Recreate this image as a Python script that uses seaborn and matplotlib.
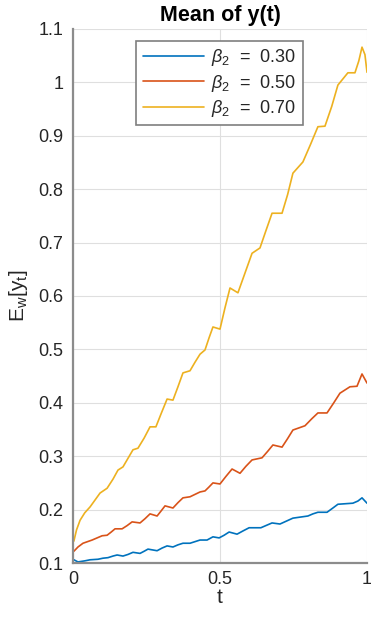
import numpy as np
import pandas as pd
import matplotlib
matplotlib.use("Agg")
import matplotlib.pyplot as plt
import seaborn as sns

# -----------------------------
# Data
# -----------------------------
t_b30 = [0.003, 0.017, 0.040, 0.058, 0.085, 0.102, 0.119, 0.136, 0.150, 0.170, 0.187,
         0.204, 0.228, 0.242, 0.255, 0.286, 0.303, 0.320, 0.340, 0.357, 0.374, 0.398,
         0.415, 0.432, 0.456, 0.476, 0.497, 0.514, 0.531, 0.558, 0.578, 0.599, 0.639,
         0.660, 0.677, 0.704, 0.728, 0.748, 0.799, 0.816, 0.833, 0.864, 0.884, 0.901,
         0.952, 0.969, 0.983, 1.000]
y_b30 = [0.106, 0.102, 0.104, 0.106, 0.107, 0.109, 0.110, 0.113, 0.115, 0.113, 0.116,
         0.120, 0.118, 0.122, 0.126, 0.123, 0.128, 0.132, 0.130, 0.134, 0.137, 0.137,
         0.140, 0.143, 0.143, 0.149, 0.147, 0.152, 0.158, 0.154, 0.160, 0.166, 0.166,
         0.171, 0.175, 0.173, 0.179, 0.184, 0.188, 0.192, 0.195, 0.195, 0.203, 0.210,
         0.212, 0.216, 0.222, 0.212]

t_b50 = [0.003, 0.017, 0.034, 0.065, 0.082, 0.099, 0.116, 0.130, 0.143, 0.167, 0.184,
         0.201, 0.228, 0.245, 0.262, 0.286, 0.299, 0.313, 0.340, 0.357, 0.374, 0.398,
         0.432, 0.449, 0.462, 0.476, 0.500, 0.520, 0.541, 0.568, 0.588, 0.609, 0.643,
         0.662, 0.680, 0.711, 0.730, 0.748, 0.789, 0.812, 0.833, 0.864, 0.887, 0.908,
         0.942, 0.966, 0.983, 1.000]
y_b50 = [0.122, 0.130, 0.137, 0.143, 0.147, 0.151, 0.152, 0.158, 0.164, 0.164, 0.170,
         0.177, 0.175, 0.183, 0.192, 0.188, 0.197, 0.207, 0.203, 0.213, 0.222, 0.224,
         0.233, 0.235, 0.242, 0.250, 0.248, 0.262, 0.276, 0.268, 0.281, 0.293, 0.297,
         0.309, 0.321, 0.317, 0.333, 0.349, 0.357, 0.370, 0.381, 0.381, 0.400, 0.418,
         0.430, 0.431, 0.454, 0.437]

t_b70 = [0.003, 0.012, 0.024, 0.040, 0.058, 0.075, 0.092, 0.116, 0.136, 0.153, 0.170,
         0.187, 0.204, 0.221, 0.242, 0.262, 0.282, 0.300, 0.320, 0.340, 0.357, 0.374,
         0.398, 0.415, 0.432, 0.449, 0.463, 0.476, 0.500, 0.517, 0.534, 0.561, 0.585,
         0.609, 0.636, 0.656, 0.677, 0.711, 0.730, 0.748, 0.782, 0.808, 0.833, 0.857,
         0.880, 0.901, 0.935, 0.959, 0.972, 0.983, 0.993, 1.000]
y_b70 = [0.141, 0.162, 0.180, 0.194, 0.205, 0.218, 0.231, 0.240, 0.257, 0.274, 0.280,
         0.296, 0.312, 0.315, 0.334, 0.355, 0.355, 0.380, 0.407, 0.405, 0.430, 0.456,
         0.460, 0.476, 0.491, 0.499, 0.522, 0.542, 0.538, 0.578, 0.615, 0.606, 0.643,
         0.680, 0.690, 0.722, 0.755, 0.755, 0.790, 0.830, 0.851, 0.884, 0.917, 0.918,
         0.955, 0.995, 1.018, 1.018, 1.040, 1.066, 1.052, 1.019]

labels = [r"$\beta_2$  =  0.30", r"$\beta_2$  =  0.50", r"$\beta_2$  =  0.70"]
colors = ["#0072BD", "#D95319", "#EDB120"]

x_ticks = [0, 0.5, 1]
x_tick_labels = ["0", "0.5", "1"]
y_ticks = [0.1, 0.2, 0.3, 0.4, 0.5, 0.6, 0.7, 0.8, 0.9, 1.0, 1.1]
y_tick_labels = ["0.1", "0.2", "0.3", "0.4", "0.5", "0.6", "0.7", "0.8", "0.9", "1", "1.1"]

df = pd.concat([
    pd.DataFrame({"t": t_b30, "y": y_b30, "series": labels[0]}),
    pd.DataFrame({"t": t_b50, "y": y_b50, "series": labels[1]}),
    pd.DataFrame({"t": t_b70, "y": y_b70, "series": labels[2]}),
])

# -----------------------------
# Plot
# -----------------------------
sns.set_theme(style="whitegrid")
plt.rcParams["font.family"] = ["Liberation Sans", "DejaVu Sans"]
plt.rcParams["mathtext.fontset"] = "custom"
plt.rcParams["mathtext.rm"] = "Liberation Sans"
plt.rcParams["mathtext.it"] = "Liberation Sans:italic"

fig = plt.figure(figsize=(3.71, 6.18), dpi=100)
ax = fig.add_axes([73 / 371, 55 / 618, 294 / 371, 534 / 618])

sns.lineplot(data=df, x="t", y="y", hue="series", palette=colors,
             linewidth=1.2, ax=ax, sort=False, estimator=None)
for ln in ax.get_lines():
    ln.set_solid_joinstyle("round")

ax.set_xlim(0, 1)
ax.set_ylim(0.1, 1.1)
ax.set_xticks(x_ticks)
ax.set_xticklabels(x_tick_labels)
ax.set_yticks(y_ticks)
ax.set_yticklabels(y_tick_labels)
ax.tick_params(axis="both", labelsize=13, colors="#262626", direction="in",
               length=4, width=0.8)
ax.tick_params(axis="y", pad=7)
ax.tick_params(axis="x", pad=6)
ax.grid(True, color="#dfdfdf", linewidth=0.8)
ax.set_facecolor("white")

for side in ["top", "right"]:
    ax.spines[side].set_visible(False)
for side in ["left", "bottom"]:
    ax.spines[side].set_color("#8c8c8c")
    ax.spines[side].set_linewidth(1.6)

ax.set_xlabel("t", fontsize=15, color="#262626", labelpad=0)
ax.set_ylabel(r"E$_\mathrm{w}$[y$_\mathrm{t}$]", fontsize=15, color="#262626", labelpad=6)
ax.set_title("Mean of y(t)", fontsize=15.5, fontweight="bold", color="#000000", pad=6)

leg = ax.legend(loc="upper center", bbox_to_anchor=(0.498, 0.978), fontsize=13,
                frameon=True, fancybox=False, handlelength=3.4, handletextpad=0.4,
                borderpad=0.35, labelspacing=0.25, borderaxespad=0)
leg.get_frame().set_edgecolor("#7f7f7f")
leg.get_frame().set_linewidth(1.2)
leg.get_frame().set_alpha(1)

fig.savefig("out.png", dpi=100)
